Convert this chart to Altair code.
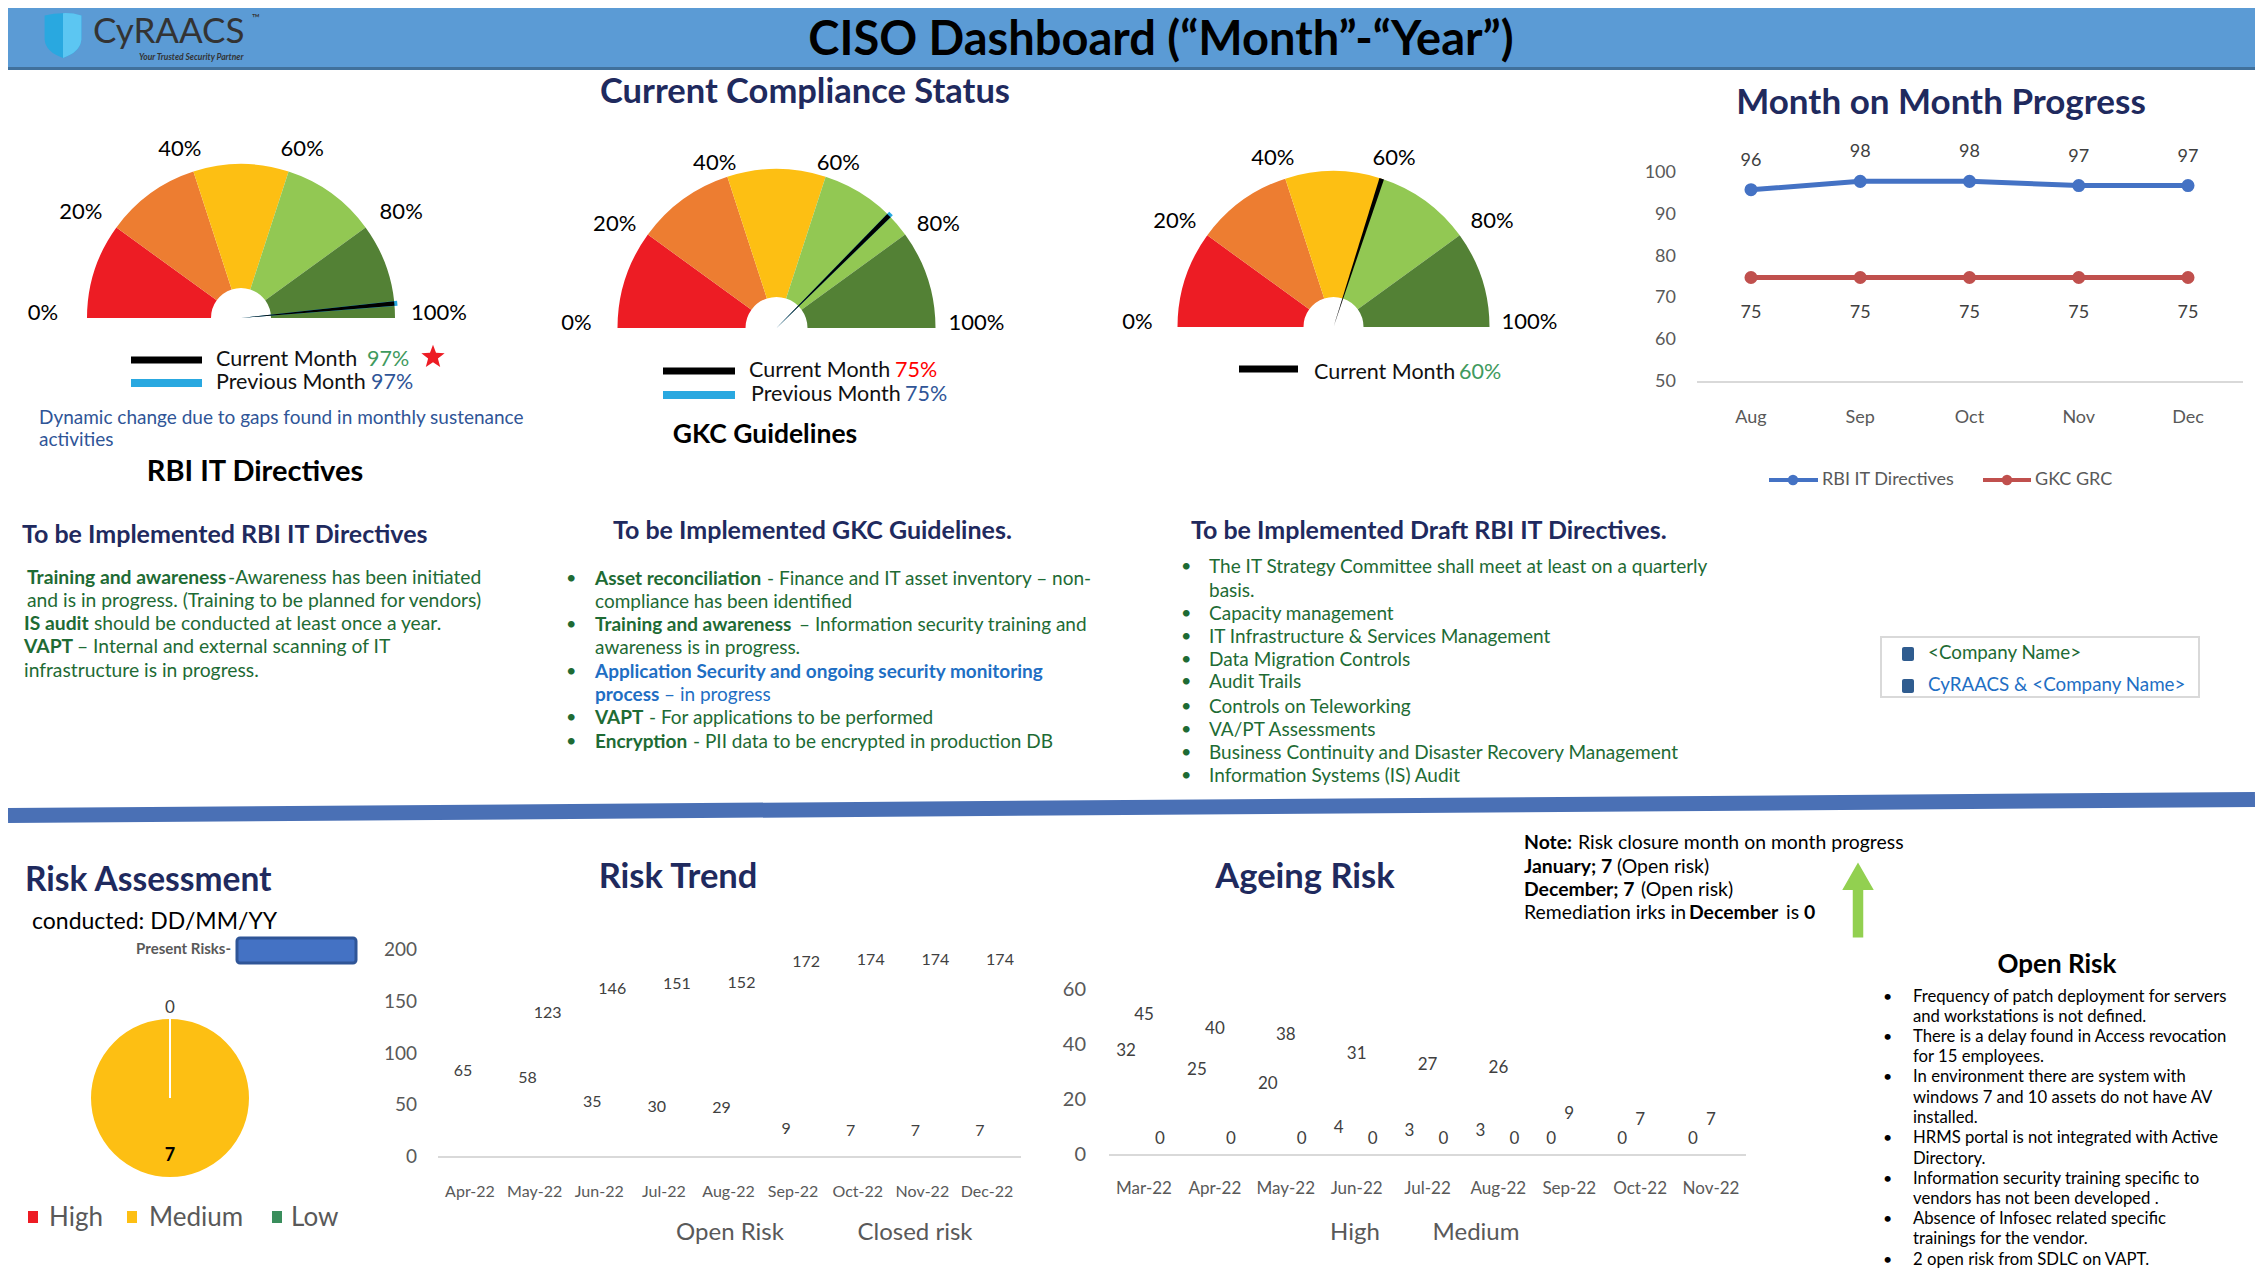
import math
import altair as alt
import pandas as pd

OFF = 8
W = 2263 - 2 * OFF
H = 1276 - 2 * OFF
FONT = "Lato"
NAVY = "#1F2A5E"
GRN = "#1E6B34"
BLU = "#1F6FC4"
GRAY = "#595959"
LABEL = "#404040"
ONE = pd.DataFrame({"k": [0]})

# ---------------- data ----------------
header_title = "CISO Dashboard (\u201cMonth\u201d-\u201cYear\u201d)"

band_names = ["0-20", "20-40", "40-60", "60-80", "80-100"]
band_start = [0, 20, 40, 60, 80]
band_end = [20, 40, 60, 80, 100]
band_colors = ["#ED1C24", "#ED7D31", "#FDBF13", "#92C853", "#538135"]
gauge_ticks = [0, 20, 40, 60, 80, 100]
gauge_tick_text = ["0%", "20%", "40%", "60%", "80%", "100%"]
gauge_names = ["RBI IT Directives", "GKC Guidelines"]
gauge_current = [97, 75, 60]
gauge_previous = [97, 75, None]

mom_months = ["Aug", "Sep", "Oct", "Nov", "Dec"]
mom_rbi = [96, 98, 98, 97, 97]
mom_gkc = [75, 75, 75, 75, 75]
mom_series = ["RBI IT Directives", "GKC GRC"]
mom_ticks = [50, 60, 70, 80, 90, 100]

trend_months = ["Apr-22", "May-22", "Jun-22", "Jul-22", "Aug-22", "Sep-22", "Oct-22", "Nov-22", "Dec-22"]
trend_open = [65, 58, 35, 30, 29, 9, 7, 7, 7]
trend_closed = [None, 123, 146, 151, 152, 172, 174, 174, 174]
trend_series = ["Open Risk", "Closed risk"]
trend_ticks = [0, 50, 100, 150, 200]

ageing_months = ["Mar-22", "Apr-22", "May-22", "Jun-22", "Jul-22", "Aug-22", "Sep-22", "Oct-22", "Nov-22"]
ageing_high = [32, 25, 20, 4, 3, 3, 0, 0, 0]
ageing_medium = [45, 40, 38, 31, 27, 26, 9, 7, 7]
ageing_low = [0, 0, 0, 0, 0, 0, None, None, None]
ageing_ticks = [0, 20, 40, 60]

risk_levels = ["High", "Medium", "Low"]
risk_counts = [0, 7, 0]
risk_colors = ["#ED1C24", "#FDBF13", "#3A8E5C"]

rbi_lines = [
    [("b", "Training and awareness"), ("r", "-Awareness has been initiated")],
    [("r", "and is in progress. (Training to be planned for vendors)")],
    [("b", "IS audit"), ("r", "should be conducted at least once a year.")],
    [("b", "VAPT"), ("r", "\u2013 Internal and external scanning of IT")],
    [("r", "infrastructure is in progress.")],
]
gkc_lines = [
    (True, [("b", "Asset reconciliation"), ("r", "- Finance and IT asset inventory \u2013 non-")]),
    (False, [("r", "compliance has been identified")]),
    (True, [("b", "Training and awareness"), ("r", "\u2013 Information security training and")]),
    (False, [("r", "awareness is in progress.")]),
    (True, [("bb", "Application Security and ongoing security monitoring")]),
    (False, [("bb", "process"), ("rb", "\u2013 in progress")]),
    (True, [("b", "VAPT"), ("r", "- For applications to be performed")]),
    (True, [("b", "Encryption"), ("r", "- PII data to be encrypted in production DB")]),
]
draft_lines = [
    (True, "The IT Strategy Committee shall meet at least on a quarterly"),
    (False, "basis."),
    (True, "Capacity management"),
    (True, "IT Infrastructure & Services Management"),
    (True, "Data Migration Controls"),
    (True, "Audit Trails"),
    (True, "Controls on Teleworking"),
    (True, "VA/PT Assessments"),
    (True, "Business Continuity  and Disaster Recovery Management"),
    (True, "Information Systems (IS) Audit"),
]
notes_lines = [
    [("b", "Note:"), ("r", "Risk closure month on month progress")],
    [("b", "January; 7"), ("r", "(Open risk)")],
    [("b", "December; 7"), ("r", "(Open risk)")],
    [("r", "Remediation irks in"), ("b", "December"), ("r", "is"), ("b", "0")],
]
open_risk_lines = [
    (True, "Frequency of patch deployment for servers"),
    (False, "and workstations is not defined."),
    (True, "There is a delay found in Access revocation"),
    (False, "for 15 employees."),
    (True, "In environment there are system with"),
    (False, "windows 7 and 10 assets do not have AV"),
    (False, "installed."),
    (True, "HRMS portal is not integrated with Active"),
    (False, "Directory."),
    (True, "Information security training specific to"),
    (False, "vendors has not been developed ."),
    (True, "Absence of Infosec related specific"),
    (False, "trainings for the vendor."),
    (True, "2 open risk from SDLC on VAPT."),
]
company_legend = ["<Company Name>", "CyRAACS & <Company Name>"]


# ---------------- helpers ----------------
def P(v):
    return v - OFF


def CX(v):
    return min(max(P(v), 0), W)


def texts(rows, size, color, weight="normal", align="left", style="normal"):
    df = pd.DataFrame(rows, columns=["x", "y", "t"])
    df["x"] = df["x"] - OFF
    df["y"] = df["y"] - OFF
    return alt.Chart(df).mark_text(
        font=FONT, fontSize=size, color=color, fontWeight=weight,
        fontStyle=style, align=align, baseline="middle"
    ).encode(
        x=alt.X("x:Q", scale=None, axis=None),
        y=alt.Y("y:Q", scale=None, axis=None),
        text=alt.Text("t:N"),
    )


def rect(x1, y1, x2, y2, fill, stroke=None, sw=0, radius=0):
    kw = dict(fill=fill, cornerRadius=radius)
    if stroke:
        kw.update(stroke=stroke, strokeWidth=sw)
    return alt.Chart(ONE).mark_rect(**kw).encode(
        x=alt.value(CX(x1)), x2=alt.value(CX(x2)), y=alt.value(max(P(y1), 0)), y2=alt.value(P(y2))
    )


def rule(x1, y1, x2, y2, color, width):
    return alt.Chart(ONE).mark_rule(color=color, strokeWidth=width).encode(
        x=alt.value(CX(x1)), y=alt.value(P(y1)), x2=alt.value(CX(x2)), y2=alt.value(P(y2))
    )


def symbol(x, y, shape, size, color):
    return alt.Chart(ONE).mark_point(
        shape=shape, size=size, filled=True, fill=color, strokeWidth=0, opacity=1
    ).encode(x=alt.value(P(x)), y=alt.value(P(y)))


def seg_layers(lines, xs, ys, styles, size):
    groups = {}
    for line, xl, y in zip(lines, xs, ys):
        for (kind, txt), x in zip(line, xl):
            groups.setdefault(kind, []).append((x, y, txt))
    out = []
    for kind, rows in groups.items():
        color, weight = styles[kind]
        out.append(texts(rows, size, color, weight))
    return out


layers = []

# ---------------- header ----------------
layers.append(rect(0, 0, 2263, 67, "#5B9BD5"))
layers.append(rule(0, 68.5, 2263, 68.5, "#41719C", 3))
shield = "M-0.8,-0.85 Q0,-1.05 0.8,-0.85 L0.8,0.2 Q0.75,0.75 0,1 Q-0.75,0.75 -0.8,0.2 Z"
shield_r = "M0,-0.95 Q0.4,-0.97 0.8,-0.85 L0.8,0.2 Q0.75,0.75 0,1 Z"
layers.append(symbol(63, 35, shield, 2116, "#29A8E0"))
layers.append(symbol(63, 35, shield_r, 2116, "#5CC6F2"))
layers.append(texts([(93, 32, "CyRAACS")], 35, "#333333"))
layers.append(texts([(252, 19, "\u2122")], 11, "#333333"))
layers.append(texts([(139, 57, "Your Trusted Security Partner")], 8.5, "#333333", "bold", style="italic"))
layers.append(texts([(1161, 41, header_title)], 47, "black", "bold", "center"))

# ---------------- section titles ----------------
layers.append(texts([(805, 93, "Current Compliance Status")], 34.5, NAVY, "bold", "center"))
layers.append(texts([(1941, 103, "Month on Month Progress")], 35, NAVY, "bold", "center"))
layers.append(texts([(678, 878, "Risk Trend"), (1305, 878, "Ageing Risk")], 34.5, NAVY, "bold", "center"))
layers.append(texts([(25, 881, "Risk Assessment")], 33.5, NAVY, "bold"))
layers.append(texts([(22, 535, "To be Implemented RBI IT Directives"),
                     (613, 531, "To be Implemented GKC Guidelines."),
                     (1191, 531, "To be Implemented Draft RBI IT Directives.")], 25, NAVY, "bold"))
layers.append(texts([(255, 472, gauge_names[0])], 29, "black", "bold", "center"))
layers.append(texts([(765, 435, gauge_names[1])], 26.5, "black", "bold", "center"))

# ---------------- gauges ----------------
TH = dict(domain=[0, 100], range=[1.5 * math.pi, 2.5 * math.pi])


def gauge(cx, cy, r, r_in, cur, prev, rx, ry):
    pos = dict(x=alt.value(P(cx)), y=alt.value(P(cy)))
    seg = pd.DataFrame({"band": band_names, "start": band_start, "end": band_end})
    parts = [alt.Chart(seg).mark_arc(radius=r, radius2=r_in).encode(
        theta=alt.Theta("start:Q", scale=alt.Scale(**TH), stack=None),
        theta2=alt.Theta2("end:Q"),
        color=alt.Color("band:N", scale=alt.Scale(domain=band_names, range=band_colors), legend=None),
        **pos)]
    if prev is not None:
        parts.append(alt.Chart(pd.DataFrame({"v": [prev]})).transform_calculate(
            a="datum.v - 0.5", b="datum.v + 0.5"
        ).mark_arc(radius=r + 3, radius2=0, color="#29A8E0").encode(
            theta=alt.Theta("a:Q", scale=alt.Scale(**TH), stack=None), theta2=alt.Theta2("b:Q"), **pos))
    parts.append(alt.Chart(pd.DataFrame({"v": [cur]})).transform_calculate(
        a="datum.v - 0.48", b="datum.v + 0.48"
    ).mark_arc(radius=r, radius2=0, color="black").encode(
        theta=alt.Theta("a:Q", scale=alt.Scale(**TH), stack=None), theta2=alt.Theta2("b:Q"), **pos))
    # tick labels on an elliptical ring around the dial, positioned from the tick value
    ticks = pd.DataFrame({"t": gauge_ticks, "lab": gauge_tick_text})
    parts.append(alt.Chart(ticks).transform_calculate(
        ang=f"(datum.t / 100 - 0.5) * PI",
        lx=f"{P(cx)} + {rx} * sin(datum.ang)",
        ly=f"{P(cy) - 5} - {ry} * cos(datum.ang)",
    ).mark_text(font=FONT, fontSize=22, color="black").encode(
        x=alt.X("lx:Q", scale=None, axis=None), y=alt.Y("ly:Q", scale=None, axis=None), text="lab:N"))
    return alt.layer(*parts)


layers.append(gauge(241, 318, 154, 30, gauge_current[0], gauge_previous[0], 198, 172))
layers.append(gauge(776.5, 328, 159, 31, gauge_current[1], gauge_previous[1], 200, 168))
layers.append(gauge(1333.5, 327, 156, 30, gauge_current[2], gauge_previous[2], 196, 172))

# gauge legends
layers.append(rule(131, 360, 202, 360, "black", 7))
layers.append(rule(131, 383, 202, 383, "#29A8E0", 8))
layers.append(rule(663, 371, 735, 371, "black", 7))
layers.append(rule(663, 395, 735, 395, "#29A8E0", 8))
layers.append(rule(1239, 369, 1298, 369, "black", 7))
layers.append(texts([(216, 360, "Current Month"), (216, 383, "Previous Month"),
                     (749, 371, "Current Month"), (751, 395, "Previous Month"),
                     (1314, 373, "Current Month")], 21.5, "#111111"))
layers.append(texts([(367, 360, f"{gauge_current[0]}%"), (1459, 373, f"{gauge_current[2]}%")], 21.5, "#3F9A5E"))
layers.append(texts([(371, 383, f"{gauge_previous[0]}%"), (905, 395, f"{gauge_previous[1]}%")], 21.5, "#2F5597"))
layers.append(texts([(895, 371, f"{gauge_current[1]}%")], 21.5, "#FF0000"))
star = "M" + " L".join(
    f"{(1.0 if i % 2 == 0 else 0.42) * math.sin(i * math.pi / 5):.3f},{-(1.0 if i % 2 == 0 else 0.42) * math.cos(i * math.pi / 5):.3f}"
    for i in range(10)) + " Z"
layers.append(symbol(433, 357, star, 600, "#ED1C24"))
layers.append(texts([(39, 418, "Dynamic change due to gaps found in monthly sustenance"),
                     (39, 440, "activities")], 19, "#2F5597"))

# ---------------- month on month ----------------
mom_df = pd.DataFrame({"month": mom_months * 2, "v": mom_rbi + mom_gkc,
                       "series": [mom_series[0]] * 5 + [mom_series[1]] * 5})
mx = alt.Scale(type="point", domain=mom_months, range=[P(1751), P(2188)], padding=0)
my = alt.Scale(domain=[50, 100], range=[P(382), P(173)], zero=False, nice=False)
mc = alt.Scale(domain=mom_series, range=["#4472C4", "#C0504D"])
menc = dict(x=alt.X("month:N", scale=mx, axis=None), y=alt.Y("v:Q", scale=my, axis=None))
mom = alt.layer(
    alt.Chart(pd.DataFrame({"v": [50]})).mark_rule(color="#D9D9D9", strokeWidth=2).encode(
        y=alt.Y("v:Q", scale=my, axis=None), x=alt.value(P(1697)), x2=alt.value(P(2243))),
    alt.Chart(mom_df).mark_line(strokeWidth=5, point=alt.OverlayMarkDef(size=170, filled=True, opacity=1)).encode(
        color=alt.Color("series:N", scale=mc, legend=None), **menc),
    alt.Chart(mom_df).transform_filter(alt.datum.series == mom_series[0]).mark_text(
        dy=-29, font=FONT, fontSize=18, color=LABEL).encode(text="v:Q", **menc),
    alt.Chart(mom_df).transform_filter(alt.datum.series == mom_series[1]).mark_text(
        dy=35, font=FONT, fontSize=18, color=LABEL).encode(text="v:Q", **menc),
    alt.Chart(pd.DataFrame({"v": mom_ticks})).mark_text(align="right", font=FONT, fontSize=18, color=GRAY).encode(
        y=alt.Y("v:Q", scale=my, axis=None), x=alt.value(P(1676)), text="v:Q"),
    alt.Chart(pd.DataFrame({"month": mom_months})).mark_text(font=FONT, fontSize=18, color=GRAY).encode(
        x=alt.X("month:N", scale=mx, axis=None), y=alt.value(P(418)), text="month:N"),
)
layers.append(mom)
layers.append(rule(1769, 480, 1818, 480, "#4472C4", 4))
layers.append(rule(1983, 480, 2031, 480, "#C0504D", 4))
layers.append(symbol(1793, 480, "circle", 110, "#4472C4"))
layers.append(symbol(2007, 480, "circle", 110, "#C0504D"))
layers.append(texts([(1822, 480, mom_series[0]), (2035, 480, mom_series[1])], 18, GRAY))

# ---------------- middle text blocks ----------------
styles = {"b": (GRN, "bold"), "r": (GRN, "normal"), "bb": (BLU, "bold"), "rb": (BLU, "normal")}
rbi_x = [[27, 228], [27], [24, 94], [24, 77], [24]]
rbi_y = [578, 601, 624, 647, 671]
layers += seg_layers(rbi_lines, rbi_x, rbi_y, styles, 19.3)

gkc_y = [579, 602, 625, 648, 672, 695, 718, 742]
gkc_x = [[595, 767], [595], [595, 799], [595], [595], [595, 664], [595, 649], [595, 693]]
layers += seg_layers([l for _, l in gkc_lines], gkc_x, gkc_y, styles, 19)
layers.append(texts([(566, y, "\u2022") for (b, _), y in zip(gkc_lines, gkc_y) if b], 18, GRN))

draft_y = [567, 591, 614, 637, 660, 682, 707, 730, 753, 776]
layers.append(texts([(1209, y, t) for (_, t), y in zip(draft_lines, draft_y)], 19, GRN))
layers.append(texts([(1181, y, "\u2022") for (b, _), y in zip(draft_lines, draft_y) if b], 18, GRN))

layers.append(rect(1881, 637, 2199, 697, "white", "#D9D9D9", 2))
layers.append(rect(1902, 647, 1914, 661, "#2F5C8F", radius=2))
layers.append(rect(1902, 679, 1914, 693, "#2F5C8F", radius=2))
layers.append(texts([(1928, 653, company_legend[0])], 18.8, GRN))
layers.append(texts([(1928, 685, company_legend[1])], 18.8, BLU))

# divider band
layers.append(rule(0, 815.5, 2263, 799.5, "#4A70B5", 15))

# ---------------- risk assessment pie ----------------
layers.append(texts([(32, 922, "conducted: DD/MM/YY")], 23, "black"))
layers.append(texts([(231, 949, "Present Risks-")], 15, GRAY, "bold", "right"))
layers.append(rect(237, 938, 356, 963, "#4472C4", "#2F5597", 3, radius=3))
pie_df = pd.DataFrame({"level": risk_levels, "n": risk_counts, "ord": list(range(len(risk_levels)))})
pc = alt.Scale(domain=risk_levels, range=risk_colors)
ppos = dict(x=alt.value(P(170)), y=alt.value(P(1098)))
pie = alt.layer(
    alt.Chart(pie_df).mark_arc(radius=80, stroke="white", strokeWidth=2).encode(
        theta=alt.Theta("n:Q", stack=True), order=alt.Order("ord:Q"),
        color=alt.Color("level:N", scale=pc, legend=None), **ppos),
    alt.Chart(pie_df).transform_filter("datum.n > 0").mark_text(
        radius=58, font=FONT, fontSize=18, fontWeight="bold", color="black").encode(
        theta=alt.Theta("n:Q", stack=True), order=alt.Order("ord:Q"), text="n:Q", **ppos),
    alt.Chart(pie_df).transform_filter(alt.datum.level == risk_levels[0]).mark_text(
        radius=90, font=FONT, fontSize=17, color=LABEL).encode(
        theta=alt.Theta("n:Q", stack=True), order=alt.Order("ord:Q"), text="n:Q", **ppos),
)
layers.append(pie)
for (sx, tx), lvl, col in zip([(33, 49), (132, 149), (277, 291)], risk_levels, risk_colors):
    layers.append(rect(sx - 5, 1211, sx + 5, 1223, col))
layers.append(texts([(49, 1218, risk_levels[0]), (149, 1218, risk_levels[1]), (291, 1218, risk_levels[2])], 26, GRAY))

# ---------------- risk trend ----------------
trend_df = pd.DataFrame({"month": trend_months * 2, "v": trend_open + trend_closed,
                         "series": [trend_series[0]] * 9 + [trend_series[1]] * 9})
tx_s = alt.Scale(type="point", domain=trend_months, range=[P(470), P(987)], padding=0)
ty_s = alt.Scale(domain=[0, 200], range=[P(1157), P(950)], nice=False)
tenc = dict(x=alt.X("month:N", scale=tx_s, axis=None), y=alt.Y("v:Q", scale=ty_s, axis=None))
trend = alt.layer(
    alt.Chart(pd.DataFrame({"v": [0]})).mark_rule(color="#D9D9D9", strokeWidth=2).encode(
        y=alt.Y("v:Q", scale=ty_s, axis=None), x=alt.value(P(438)), x2=alt.value(P(1021))),
    alt.Chart(trend_df).transform_filter(
        f"datum.series == '{trend_series[0]}' && isValid(datum.v)").mark_text(
        dx=-7, dy=-19, font=FONT, fontSize=16, color=LABEL).encode(text="v:Q", **tenc),
    alt.Chart(trend_df).transform_filter(
        f"datum.series == '{trend_series[1]}' && isValid(datum.v)").mark_text(
        dx=13, dy=-17, font=FONT, fontSize=16, color=LABEL).encode(text="v:Q", **tenc),
    alt.Chart(pd.DataFrame({"v": trend_ticks})).mark_text(align="right", font=FONT, fontSize=19, color=GRAY).encode(
        y=alt.Y("v:Q", scale=ty_s, axis=None), x=alt.value(P(417)), text="v:Q"),
    alt.Chart(pd.DataFrame({"month": trend_months})).mark_text(font=FONT, fontSize=16, color=GRAY).encode(
        x=alt.X("month:N", scale=tx_s, axis=None), y=alt.value(P(1192)), text="month:N"),
)
layers.append(trend)
layers.append(texts([(730, 1233, trend_series[0]), (915, 1233, trend_series[1])], 24, GRAY, align="center"))

# ---------------- ageing risk ----------------
ag_series = ["High", "Medium", "Low"]
ag_df = pd.DataFrame({"month": ageing_months * 3, "v": ageing_high + ageing_medium + ageing_low,
                      "series": [s for s in ag_series for _ in ageing_months]})
ax_s = alt.Scale(type="point", domain=ageing_months, range=[P(1144), P(1711)], padding=0)
ay_s = alt.Scale(domain=[0, 60], range=[P(1155), P(990)], nice=False)
aenc = dict(x=alt.X("month:N", scale=ax_s, axis=None), y=alt.Y("v:Q", scale=ay_s, axis=None))
ag_parts = [
    alt.Chart(pd.DataFrame({"v": [0]})).mark_rule(color="#D9D9D9", strokeWidth=2).encode(
        y=alt.Y("v:Q", scale=ay_s, axis=None), x=alt.value(P(1109)), x2=alt.value(P(1746))),
]
for s, dx in zip(ag_series, [-18, 0, 16]):
    ag_parts.append(alt.Chart(ag_df).transform_filter(
        f"datum.series == '{s}' && isValid(datum.v)").mark_text(
        dx=dx, dy=-16, font=FONT, fontSize=17, color=LABEL).encode(text="v:Q", **aenc))
ag_parts.append(alt.Chart(pd.DataFrame({"v": ageing_ticks})).mark_text(
    align="right", font=FONT, fontSize=20, color=GRAY).encode(
    y=alt.Y("v:Q", scale=ay_s, axis=None), x=alt.value(P(1086)), text="v:Q"))
ag_parts.append(alt.Chart(pd.DataFrame({"month": ageing_months})).mark_text(
    font=FONT, fontSize=17, color=GRAY).encode(
    x=alt.X("month:N", scale=ax_s, axis=None), y=alt.value(P(1189)), text="month:N"))
layers.append(alt.layer(*ag_parts))
layers.append(texts([(1355, 1233, ag_series[0]), (1476, 1233, ag_series[1])], 24, GRAY, align="center"))

# ---------------- notes, arrow, open risk ----------------
note_styles = {"b": ("black", "bold"), "r": ("black", "normal")}
notes_x = [[1524, 1578], [1524, 1617], [1524, 1641], [1524, 1689, 1786, 1804]]
notes_y = [843, 867, 890, 913]
layers += seg_layers(notes_lines, notes_x, notes_y, note_styles, 19.4)
arrow = "M0,-1 L0.42,-0.27 L0.14,-0.27 L0.14,1 L-0.14,1 L-0.14,-0.27 L-0.42,-0.27 Z"
layers.append(symbol(1858, 900, arrow, 5625, "#92D050"))

layers.append(texts([(2057, 965, "Open Risk")], 26, "black", "bold", "center"))
or_y = [997, 1017, 1037, 1057, 1077, 1098, 1118, 1138, 1159, 1179, 1199, 1219, 1239, 1260]
layers.append(texts([(1913, y, t) for (_, t), y in zip(open_risk_lines, or_y)], 16.7, "black"))
layers.append(texts([(1883, y, "\u2022") for (b, _), y in zip(open_risk_lines, or_y) if b], 16, "black"))

chart = alt.layer(*layers).resolve_scale(
    x="independent", y="independent", theta="independent", color="independent"
).properties(
    width=W, height=H, padding=0, background="white",
    autosize=alt.AutoSizeParams(type="none"),
).configure_view(stroke=None)

chart.save("out.html", embed_options={"renderer": "svg", "actions": False})
